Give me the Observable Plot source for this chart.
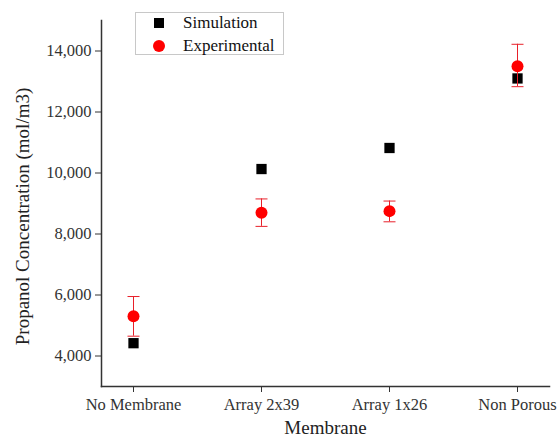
<!DOCTYPE html>
<html><head><meta charset="utf-8">
<script src="https://cdn.jsdelivr.net/npm/d3@7"></script>
<script src="https://cdn.jsdelivr.net/npm/@observablehq/plot@0.6"></script>
<style>
body{margin:0;background:#fff;}
#wrap{position:relative;width:560px;height:442px;font-family:"Liberation Serif",serif;}
.legend{position:absolute;left:135px;top:12px;width:149px;height:43px;border:1px solid #c8c8c8;box-sizing:border-box;background:#fff;}
.sq{position:absolute;left:18px;top:5px;width:10px;height:10px;background:#000;}
.ci{position:absolute;left:17px;top:27px;width:12px;height:12px;border-radius:50%;background:#ff0000;}
.lt{position:absolute;left:47px;font-size:17px;line-height:20px;color:#111;white-space:nowrap;}
</style>
</head><body>
<div id="wrap"></div>
<script>
const categories = ["No Membrane", "Array 2x39", "Array 1x26", "Non Porous"];
const simulation = [4420, 10130, 10820, 13100];
const experimental = [5300, 8700, 8750, 13500];
const expLow = [4650, 8250, 8400, 12830];
const expHigh = [5950, 9150, 9080, 14220];
const yTicks = [4000, 6000, 8000, 10000, 12000, 14000];

const rows = categories.map((c, i) => ({cat: c, sim: simulation[i], exp: experimental[i], lo: expLow[i], hi: expHigh[i]}));

const cap = {draw(ctx, size) { ctx.moveTo(-6, 0); ctx.lineTo(6, 0); }};

const chart = Plot.plot({
  width: 560,
  height: 442,
  marginLeft: 101,
  marginRight: 11,
  marginTop: 20,
  marginBottom: 56,
  style: {fontFamily: "'Liberation Serif', serif", fontSize: "16.5px", color: "#333", background: "#fff"},
  x: {type: "point", domain: categories, padding: 0.25},
  y: {domain: [3000, 15000]},
  marks: [
    Plot.axisY({ticks: yTicks, tickFormat: d3.format(","), tickSize: 6, tickPadding: 4, label: null, fontSize: 16.5, stroke: "#333", fill: "#333"}),
    Plot.axisX({tickSize: 6, tickPadding: 6, label: null, fontSize: 16.5, stroke: "#333", fill: "#333"}),
    Plot.frame({anchor: "left", stroke: "#333", strokeWidth: 1.5}),
    Plot.frame({anchor: "bottom", stroke: "#333", strokeWidth: 1.5}),
    Plot.dot(rows, {x: "cat", y: "sim", symbol: "square", r: 5.8, fill: "#000", stroke: null}),
    Plot.ruleX(rows, {x: "cat", y1: "lo", y2: "hi", stroke: "#e8202a", strokeWidth: 1}),
    Plot.dot(rows, {x: "cat", y: "lo", symbol: cap, r: 3, stroke: "#e8202a", fill: "none", strokeWidth: 1}),
    Plot.dot(rows, {x: "cat", y: "hi", symbol: cap, r: 3, stroke: "#e8202a", fill: "none", strokeWidth: 1}),
    Plot.dot(rows, {x: "cat", y: "exp", r: 6, fill: "#ff0000", stroke: null}),
    Plot.text(["Membrane"], {frameAnchor: "bottom", dy: 47, fontSize: 19, fill: "#222"}),
    Plot.text(["Propanol Concentration (mol/m3)"], {frameAnchor: "left", textAnchor: "middle", dx: -79, dy: 13, rotate: -90, fontSize: 19, fill: "#222"})
  ]
});
const wrap = document.getElementById("wrap");
wrap.appendChild(chart);
const lg = document.createElement("div");
lg.className = "legend";
lg.innerHTML = '<div class="sq"></div><div class="lt" style="top:0px">Simulation</div><div class="ci"></div><div class="lt" style="top:23px">Experimental</div>';
wrap.appendChild(lg);
</script>
</body></html>
